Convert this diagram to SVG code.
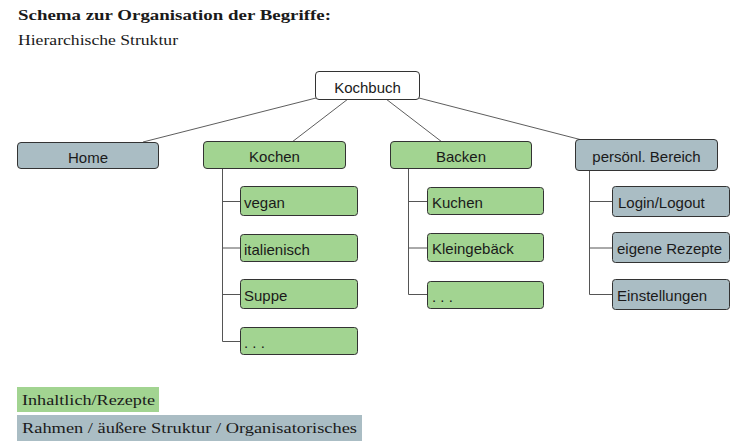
<svg xmlns="http://www.w3.org/2000/svg" width="751" height="444" viewBox="0 0 751 444">
<style>
.box{stroke:#333;stroke-width:1}
.w{fill:#ffffff}
.g{fill:#a2d491}
.s{fill:#aabdc4}
.t{font-family:"Liberation Sans",Arial,sans-serif;font-size:15px;fill:#1a1a1a}
.c{text-anchor:middle}
.serif{font-family:"Liberation Serif","Times New Roman",serif;font-size:15px;fill:#1a1a1a}
.ln{stroke:#333;stroke-width:0.8;fill:none}
.tr{stroke:#555;stroke-width:1;fill:none}
</style>
<rect width="751" height="444" fill="#ffffff"/>
<text class="serif" x="18" y="20" font-weight="bold" textLength="313" lengthAdjust="spacingAndGlyphs">Schema zur Organisation der Begriffe:</text>
<text class="serif" x="18" y="45" textLength="160" lengthAdjust="spacingAndGlyphs">Hierarchische Struktur</text>

<g id="connectors">
<line class="ln" x1="316" y1="98" x2="143" y2="142"/>
<line class="ln" x1="348" y1="99" x2="292" y2="142"/>
<line class="ln" x1="386" y1="99" x2="442" y2="142"/>
<line class="ln" x1="419" y1="98" x2="582" y2="140"/>
<path class="tr" d="M222.5 168 V341.5 H240 M222.5 201.5 H240 M222.5 248 H240 M222.5 294.5 H240"/>
<path class="tr" d="M408.5 168 V294.5 H427 M408.5 201.5 H427 M408.5 248 H427"/>
<path class="tr" d="M589.5 171 V294.5 H612 M589.5 201.5 H612 M589.5 248 H612"/>
</g>

<g id="kochbuch"><rect class="box w" x="315.5" y="71.5" width="104" height="28" rx="3.5"/><text class="t c" x="367.5" y="92.5">Kochbuch</text></g>
<g id="home"><rect class="box s" x="17.5" y="142.5" width="141" height="26" rx="3.5"/><text class="t c" x="88" y="162.5">Home</text></g>
<g id="kochen"><rect class="box g" x="203.5" y="141.5" width="142" height="27" rx="3.5"/><text class="t c" x="274.5" y="162">Kochen</text></g>
<g id="backen"><rect class="box g" x="390.5" y="141.5" width="141" height="27" rx="3.5"/><text class="t c" x="461" y="162">Backen</text></g>
<g id="persoenl"><rect class="box s" x="575.5" y="139.5" width="142" height="31" rx="3.5"/><text class="t c" x="646.5" y="161.5">persönl. Bereich</text></g>

<g id="vegan"><rect class="box g" x="240.5" y="186.5" width="117" height="29" rx="3"/><text class="t" x="244" y="207.5">vegan</text></g>
<g id="italienisch"><rect class="box g" x="240.5" y="234.5" width="117" height="27" rx="3"/><text class="t" x="244" y="254.5">italienisch</text></g>
<g id="suppe"><rect class="box g" x="240.5" y="279.5" width="117" height="29" rx="3"/><text class="t" x="244" y="300.5">Suppe</text></g>
<g id="kochen-more"><rect class="box g" x="240.5" y="327.5" width="117" height="27" rx="3"/><text class="t" x="244" y="347.5">. . .</text></g>

<g id="kuchen"><rect class="box g" x="427.5" y="187.5" width="116" height="27" rx="3"/><text class="t" x="432" y="208">Kuchen</text></g>
<g id="kleingebaeck"><rect class="box g" x="427.5" y="233.5" width="116" height="28" rx="3"/><text class="t" x="432" y="253.5">Kleingebäck</text></g>
<g id="backen-more"><rect class="box g" x="427.5" y="281.5" width="116" height="27" rx="3"/><text class="t" x="432" y="301.5">. . .</text></g>

<g id="login"><rect class="box s" x="612.5" y="186.5" width="117" height="30" rx="3"/><text class="t" x="618" y="208">Login/Logout</text></g>
<g id="rezepte"><rect class="box s" x="612.5" y="232.5" width="117" height="30" rx="3"/><text class="t" x="617" y="254">eigene Rezepte</text></g>
<g id="einstellungen"><rect class="box s" x="612.5" y="279.5" width="117" height="30" rx="3"/><text class="t" x="617" y="301">Einstellungen</text></g>

<g id="legend">
<rect x="17" y="387" width="142" height="25" fill="#a2d491"/>
<text class="serif" x="22" y="405" textLength="133" lengthAdjust="spacingAndGlyphs">Inhaltlich/Rezepte</text>
<rect x="17" y="415" width="345" height="26" fill="#aabdc4"/>
<text class="serif" x="22" y="433" textLength="335" lengthAdjust="spacingAndGlyphs">Rahmen / äußere Struktur / Organisatorisches</text>
</g>
</svg>
